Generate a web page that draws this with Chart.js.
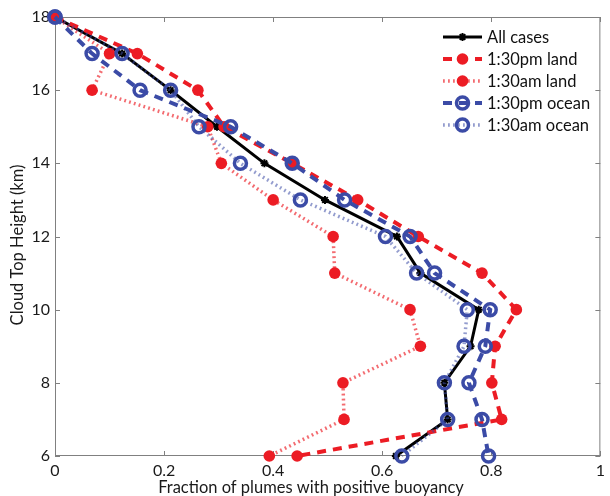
<!DOCTYPE html>
<html>
<head>
<meta charset="utf-8">
<script src="https://cdn.jsdelivr.net/npm/chart.js@4.4.1/dist/chart.umd.min.js"></script>
<style>
  html, body { margin: 0; padding: 0; background: #fff; }
  #wrap { width: 610px; height: 496px; }
</style>
</head>
<body>
<div id="wrap"><canvas id="c" width="610" height="496"></canvas></div>
<script>
// ── Data ────────────────────────────────────────────────────────────────────
const heights  = [18, 17, 16, 15, 14, 13, 12, 11, 10, 9, 8, 7, 6];
const allCases = [0, 0.123, 0.212, 0.297, 0.384, 0.495, 0.627, 0.670, 0.777, 0.762, 0.714, 0.720, 0.625];
const pmLand   = [0, 0.151, 0.262, 0.310, 0.435, 0.555, 0.666, 0.783, 0.846, 0.807, 0.801, 0.819, 0.444];
const amLand   = [0, 0.100, 0.068, 0.280, 0.305, 0.400, 0.510, 0.513, 0.651, 0.670, 0.528, 0.530, 0.393];
const pmOcean  = [0, 0.068, 0.156, 0.322, 0.435, 0.531, 0.651, 0.696, 0.798, 0.789, 0.759, 0.783, 0.795];
const amOcean  = [0, 0.123, 0.212, 0.264, 0.340, 0.450, 0.606, 0.663, 0.756, 0.750, 0.714, 0.720, 0.636];

const seriesNames = ['All cases', '1:30pm land', '1:30am land', '1:30pm ocean', '1:30am ocean'];
const xTicks = [0, 0.2, 0.4, 0.6, 0.8, 1];
const xTickLabels = ['0', '0.2', '0.4', '0.6', '0.8', '1'];
const yTicks = [6, 8, 10, 12, 14, 16, 18];
const yTickLabels = ['6', '8', '10', '12', '14', '16', '18'];
const xTitle = 'Fraction of plumes with positive buoyancy';
const yTitle = 'Cloud Top Height (km)';

// ── Styles ──────────────────────────────────────────────────────────────────
const RED = '#ec1c24';
const RED_DOT = 'rgba(236,28,36,0.65)';
const BLUE = '#3b4ba6';
const BLUE_DOT = 'rgba(59,75,166,0.55)';
const AXIS = '#808080';
const FONT = 'Lato';

const pts = vals => heights.map((h, i) => ({ x: vals[i], y: h }));

const datasets = [
  { label: seriesNames[0], data: pts(allCases), order: 4,
    borderColor: '#000', borderWidth: 3,
    pointStyle: 'star', pointRadius: 4, pointBorderWidth: 2,
    pointBorderColor: '#000', pointBackgroundColor: '#000' },
  { label: seriesNames[1], data: pts(pmLand), order: 3,
    borderColor: RED, borderWidth: 4, borderDash: [9, 7],
    pointStyle: 'circle', pointRadius: 5.8, pointBorderWidth: 0,
    pointBackgroundColor: RED, pointBorderColor: RED },
  { label: seriesNames[2], data: pts(amLand), order: 2,
    borderColor: RED_DOT, borderWidth: 3.5, borderDash: [1.8, 3.2],
    pointStyle: 'circle', pointRadius: 5.8, pointBorderWidth: 0,
    pointBackgroundColor: RED, pointBorderColor: RED },
  { label: seriesNames[3], data: pts(pmOcean), order: 1,
    borderColor: BLUE, borderWidth: 4, borderDash: [9, 7],
    pointStyle: 'circle', pointRadius: 6, pointBorderWidth: 3.5,
    pointBackgroundColor: 'rgba(0,0,0,0)', pointBorderColor: BLUE },
  { label: seriesNames[4], data: pts(amOcean), order: 0,
    borderColor: BLUE_DOT, borderWidth: 3.5, borderDash: [1.8, 3.2],
    pointStyle: 'circle', pointRadius: 6, pointBorderWidth: 3.5,
    pointBackgroundColor: 'rgba(0,0,0,0)', pointBorderColor: BLUE },
];

// ── Box, inward ticks, titles and legend (MATLAB look) ──────────────────────
const matlabFrame = {
  id: 'matlabFrame',
  beforeDatasetsDraw(chart) {
    const { ctx, chartArea: a, scales } = chart;
    ctx.save();
    ctx.strokeStyle = AXIS;
    ctx.lineWidth = 1;
    ctx.setLineDash([]);
    ctx.strokeRect(a.left + 0.5, a.top + 0.5, a.right - a.left - 1, a.bottom - a.top - 1);
    ctx.beginPath();
    xTicks.forEach(v => {
      const px = Math.round(scales.x.getPixelForValue(v)) + 0.5;
      ctx.moveTo(px, a.bottom); ctx.lineTo(px, a.bottom - 5);
      ctx.moveTo(px, a.top); ctx.lineTo(px, a.top + 5);
    });
    yTicks.forEach(v => {
      const py = Math.round(scales.y.getPixelForValue(v)) + 0.5;
      ctx.moveTo(a.left, py); ctx.lineTo(a.left + 5, py);
      ctx.moveTo(a.right, py); ctx.lineTo(a.right - 5, py);
    });
    ctx.stroke();

    // axis titles
    ctx.fillStyle = '#1a1a1a';
    ctx.font = `16.5px ${FONT}`;
    ctx.textAlign = 'center';
    ctx.textBaseline = 'middle';
    ctx.fillText(xTitle, 311, 488);
    ctx.translate(18, 245);
    ctx.rotate(-Math.PI / 2);
    ctx.fillText(yTitle, 0, 0);
    ctx.restore();
  },
  afterDraw(chart) {
    const { ctx } = chart;
    ctx.save();
    const x0 = 443, x1 = 482, rowY = 37, rowH = 22;
    chart.data.datasets.forEach((ds, i) => {
      const y = rowY + i * rowH;
      ctx.strokeStyle = ds.borderColor;
      ctx.lineWidth = ds.borderWidth;
      ctx.setLineDash(ds.borderDash || []);
      ctx.beginPath();
      ctx.moveTo(x0, y); ctx.lineTo(x1, y);
      ctx.stroke();
      ctx.setLineDash([]);
      ctx.strokeStyle = ds.pointBorderColor;
      ctx.fillStyle = ds.pointBackgroundColor;
      ctx.lineWidth = ds.pointBorderWidth;
      Chart.helpers.drawPoint(ctx, {
        pointStyle: ds.pointStyle, radius: ds.pointRadius,
        rotation: 0, borderWidth: ds.pointBorderWidth
      }, (x0 + x1) / 2, y);
      ctx.fillStyle = '#111';
      ctx.font = `16.5px ${FONT}`;
      ctx.textAlign = 'left';
      ctx.textBaseline = 'middle';
      ctx.fillText(ds.label, 487, y + 1);
    });
    ctx.restore();
  }
};

new Chart(document.getElementById('c'), {
  type: 'line',
  data: { datasets },
  options: {
    responsive: false,
    animation: false,
    events: [],
    clip: false,
    layout: { autoPadding: false, padding: { top: 17, right: 0, left: 0, bottom: 0 } },
    elements: { line: { tension: 0, fill: false } },
    plugins: { legend: { display: false }, tooltip: { enabled: false } },
    scales: {
      x: {
        type: 'linear', min: 0, max: 1,
        afterFit: s => { s.height = 40; },
        afterBuildTicks: s => { s.ticks = xTicks.map(v => ({ value: v })); },
        ticks: {
          color: '#1a1a1a', font: { family: FONT, size: 16 }, padding: 5,
          maxRotation: 0, autoSkip: false,
          callback: (v) => xTickLabels[xTicks.indexOf(v)]
        },
        grid: { display: false, drawTicks: false },
        border: { display: false }
      },
      y: {
        type: 'linear', min: 6, max: 18,
        afterFit: s => { s.width = 55; },
        afterBuildTicks: s => { s.ticks = yTicks.map(v => ({ value: v })); },
        ticks: {
          color: '#1a1a1a', font: { family: FONT, size: 16 }, padding: 5,
          autoSkip: false,
          callback: (v) => yTickLabels[yTicks.indexOf(v)]
        },
        grid: { display: false, drawTicks: false },
        border: { display: false }
      }
    }
  },
  plugins: [matlabFrame]
});
</script>
</body>
</html>
